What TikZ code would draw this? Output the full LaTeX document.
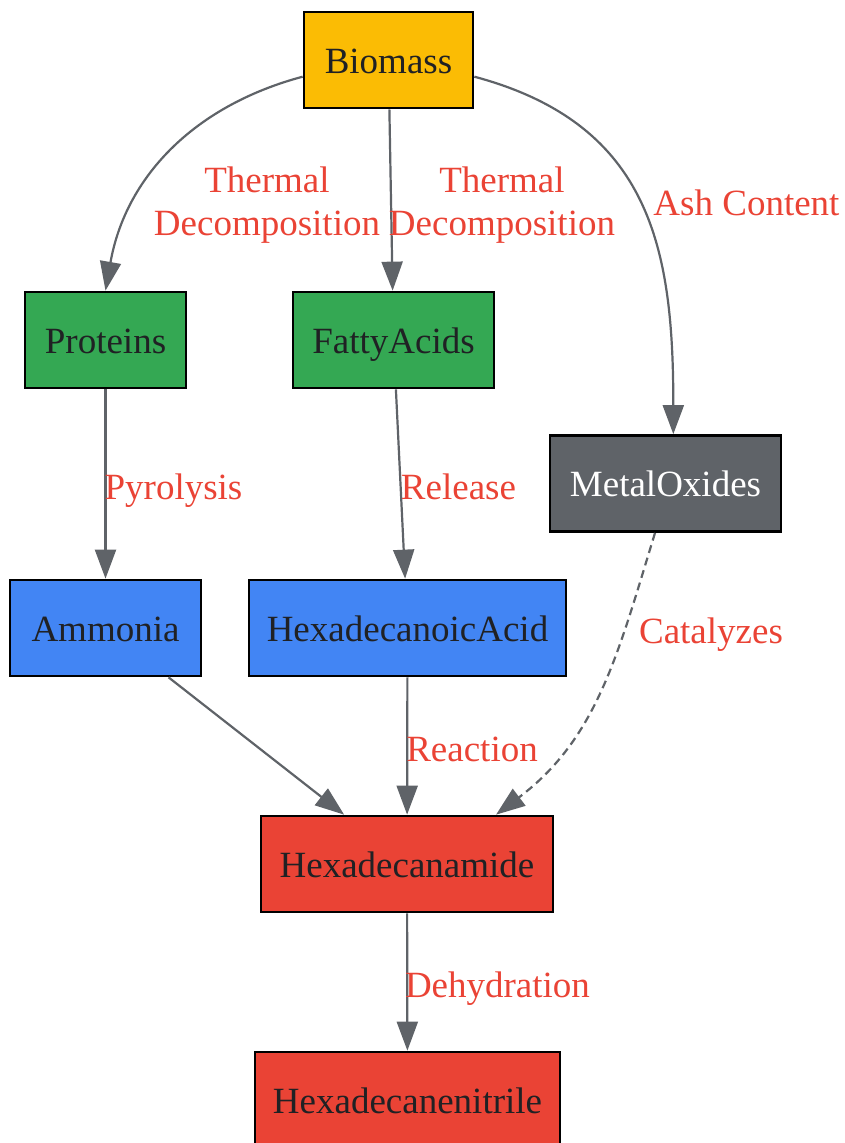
\documentclass[tikz,border=0pt]{standalone}
\usepackage{fontspec}
\setmainfont{Liberation Serif}
\usetikzlibrary{arrows.meta}
\definecolor{gyellow}{HTML}{FBBC04}
\definecolor{ggreen}{HTML}{34A853}
\definecolor{gblue}{HTML}{4285F4}
\definecolor{gred}{HTML}{EA4335}
\definecolor{ggray}{HTML}{5F6368}
\definecolor{gtext}{HTML}{202124}
\tikzset{
  box/.style={draw=black, line width=2.7pt, rectangle, minimum height=96pt, inner sep=0pt,
    text height=34pt, text depth=8pt, text=gtext, font=\fontsize{37}{43}\selectfont},
  lbl/.style={text=gred, inner sep=0pt, font=\fontsize{37}{43}\selectfont,
    text height=34pt, text depth=8pt},
  lbl2/.style={text=gred, inner sep=0pt, font=\fontsize{37}{43}\selectfont, align=center},
  edge/.style={draw=ggray, line width=2.2pt, -{Triangle[length=29pt,width=21pt]}},
}
\begin{document}
\begin{tikzpicture}[x=1pt,y=1pt]
\useasboundingbox (0,0) rectangle (845,-1143);
% nodes
\node[box, fill=gyellow, minimum width=169pt] (Biomass) at (388.5,-60) {Biomass};
\node[box, fill=ggreen, minimum width=161pt] (Proteins) at (105.5,-340) {Proteins};
\node[box, fill=ggreen, minimum width=201pt] (FattyAcids) at (393.5,-340) {FattyAcids};
\node[box, fill=ggray, text=white, minimum width=231pt] (MetalOxides) at (665.5,-483.5) {MetalOxides};
\node[box, fill=gblue, minimum width=191pt] (Ammonia) at (105.5,-628) {Ammonia};
\node[box, fill=gblue, minimum width=317pt] (HexAcid) at (407.5,-628) {HexadecanoicAcid};
\node[box, fill=gred, minimum width=292pt] (Hexamide) at (407,-864) {Hexadecanamide};
\node[box, fill=gred, minimum width=305pt] (Hexnitrile) at (407.5,-1100) {Hexadecanenitrile};
% edges
\draw[edge] (Biomass.191) to[out=195, in=80] (Proteins.north);
\draw[edge] (Biomass) -- (FattyAcids);
\draw[edge] (Biomass.-11) to[out=-15, in=90, looseness=1.15] (MetalOxides.81);
\draw[edge] (Proteins) -- (Ammonia);
\draw[edge] (FattyAcids) -- (HexAcid);
\draw[edge, dash pattern=on 8pt off 5pt] (MetalOxides.-102) to[out=-107, in=37] (Hexamide.29);
\draw[edge] (Ammonia) -- (Hexamide);
\draw[edge] (HexAcid) -- (Hexamide);
\draw[edge] (Hexamide) -- (Hexnitrile);
% labels
\node[lbl2] (lTD1) at (267,-205) {Thermal\\Decomposition};
\node[lbl2] (lTD2) at (502,-205) {Thermal\\Decomposition};
\node[lbl] (lAsh) at (746.5,-202) {Ash Content};
\node[lbl] (lPyr) at (173.5,-486) {Pyrolysis};
\node[lbl] (lRel) at (458.5,-486) {Release};
\node[lbl] (lCat) at (711,-630) {Catalyzes};
\node[lbl] (lRea) at (472,-748) {Reaction};
\node[lbl] (lDeh) at (497.5,-984) {Dehydration};
\end{tikzpicture}
\end{document}
